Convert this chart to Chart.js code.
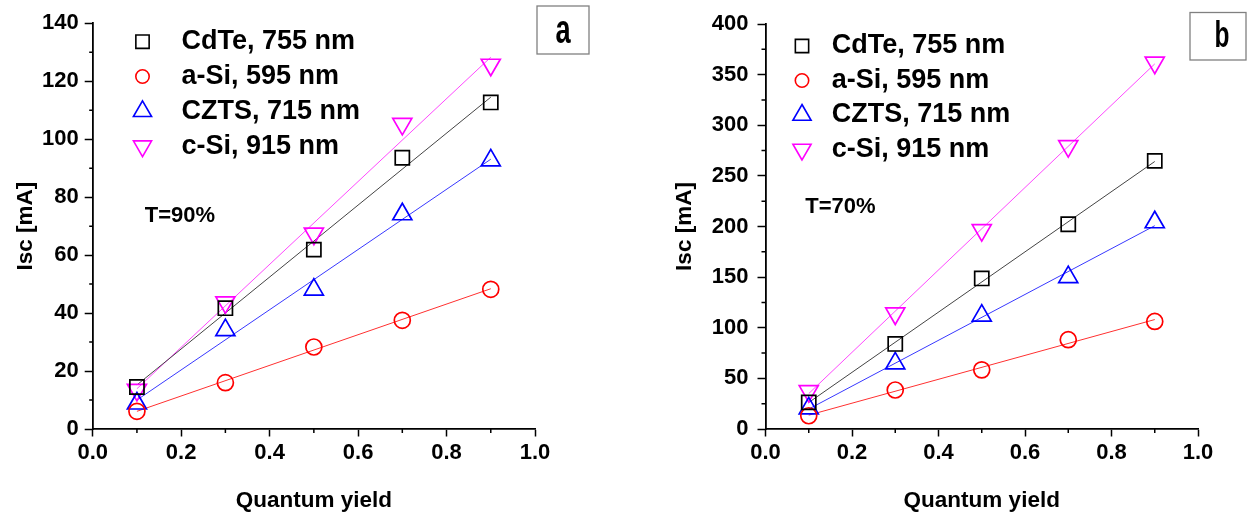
<!DOCTYPE html>
<html>
<head>
<meta charset="utf-8">
<script src="https://cdn.jsdelivr.net/npm/chart.js@4.4.1/dist/chart.umd.min.js"></script>
<style>
  html, body { margin: 0; padding: 0; background: #fff; }
  #wrap { position: relative; width: 1257px; height: 521px; }
  canvas { position: absolute; top: 0; }
  #chartA { left: 0; }
  #chartB { left: 628px; }
</style>
</head>
<body>
<div id="wrap">
  <canvas id="chartA" width="628" height="521"></canvas>
  <canvas id="chartB" width="629" height="521"></canvas>
</div>
<script>
// values
const quantumYield = [0.1, 0.3, 0.5, 0.7, 0.9];
const fitRange = [0.1, 0.9];
const seriesNames = ["CdTe, 755 nm", "a-Si, 595 nm", "CZTS, 715 nm", "c-Si, 915 nm"];
const xTickLabels = ["0.0", "0.2", "0.4", "0.6", "0.8", "1.0"];
const yTickLabelsA = ["0", "20", "40", "60", "80", "100", "120", "140"];
const yTickLabelsB = ["0", "50", "100", "150", "200", "250", "300", "350", "400"];

// panel a, T=90%
const cdteA = [14.5, 41.7, 61.9, 93.6, 112.7];
const asiA = [6.1, 16.0, 28.3, 37.5, 48.2];
const cztsA = [8.8, 34.1, 48.1, 74.1, 92.7];
const csiA = [13.5, 43.7, 67.4, 105.3, 125.7];
const cdteFitA = [15.2, 114.5];
const asiFitA = [6.1, 48.4];
const cztsFitA = [10.0, 93.1];
const csiFitA = [13.9, 128.3];

// panel b, T=70%
const cdteB = [26.3, 84.0, 148.7, 202.2, 264.8];
const asiB = [13.1, 38.5, 58.4, 88.2, 106.2];
const cztsB = [20.4, 64.8, 112.0, 150.0, 204.2];
const csiB = [37.4, 114.1, 196.4, 279.4, 361.8];
const cdteFitB = [26.2, 264.2];
const asiFitB = [13.7, 108.1];
const cztsFitB = [19.7, 200.8];
const csiFitB = [35.0, 360.6];

// look of each series
const markerColors = ["#000000", "#ff0000", "#0000ff", "#ff00ff"];
const lineColors = ["#444444", "#ff3030", "#3838ff", "#ff48ff"];
const markerStyles = ["rect", "circle", "triangle", "triangle"];
const markerRotation = [0, 0, 0, 180];
const markerRadius = [10, 8, 11, 11];
const legendRadius = [9.4, 6.7, 10.5, 10.5];

const FONT = '"Liberation Sans", Arial, sans-serif';
Chart.defaults.font.family = FONT;
Chart.defaults.color = "#000";

const tickFont = { size: 22, weight: "bold", family: FONT };
const titleFont = { size: 22.5, weight: "bold", family: FONT };

function drawMarker(ctx, style, x, y, r, rot) {
  ctx.beginPath();
  if (style === "rect") {
    const s = r * Math.SQRT1_2;
    ctx.rect(x - s, y - s, 2 * s, 2 * s);
  } else if (style === "circle") {
    ctx.arc(x, y, r, 0, Math.PI * 2);
  } else {
    let a = rot * Math.PI / 180;
    ctx.moveTo(x + Math.sin(a) * r, y - Math.cos(a) * r);
    a += 2 * Math.PI / 3;
    ctx.lineTo(x + Math.sin(a) * r, y - Math.cos(a) * r);
    a += 2 * Math.PI / 3;
    ctx.lineTo(x + Math.sin(a) * r, y - Math.cos(a) * r);
    ctx.closePath();
  }
  ctx.stroke();
}

const decorPlugin = {
  id: "decor",
  afterDraw(chart, args, o) {
    const ctx = chart.ctx;
    const xs = chart.scales.x, ys = chart.scales.y;
    ctx.save();
    // minor ticks
    ctx.strokeStyle = "#000";
    ctx.lineWidth = 1.5;
    ctx.beginPath();
    for (let i = 0; i < xs.ticks.length - 1; i++) {
      const px = xs.getPixelForValue((xs.ticks[i].value + xs.ticks[i + 1].value) / 2);
      ctx.moveTo(px, xs.top);
      ctx.lineTo(px, xs.top + o.minorX);
    }
    for (let i = 0; i < ys.ticks.length - 1; i++) {
      const py = ys.getPixelForValue((ys.ticks[i].value + ys.ticks[i + 1].value) / 2);
      ctx.moveTo(ys.right, py);
      ctx.lineTo(ys.right - o.minorY, py);
    }
    ctx.stroke();

    // legend
    ctx.font = "bold 27px " + FONT;
    ctx.textBaseline = "middle";
    ctx.fillStyle = "#000";
    seriesNames.forEach((name, i) => {
      const y = o.legendY + i * o.legendGap;
      ctx.strokeStyle = markerColors[i];
      ctx.lineWidth = 1.6;
      drawMarker(ctx, markerStyles[i], o.legendMarkerX, y, legendRadius[i], markerRotation[i]);
      ctx.fillText(name, o.legendTextX, y);
    });

    // transmission note
    ctx.font = "bold 22px " + FONT;
    ctx.fillText(o.note, o.noteX, o.noteY);

    // panel letter box
    ctx.strokeStyle = "#808080";
    ctx.lineWidth = 1.3;
    ctx.strokeRect(o.box[0], o.box[1], o.box[2], o.box[3]);
    ctx.translate(o.letterX, o.letterY);
    ctx.scale(0.68, 1);
    ctx.font = "bold " + o.letterSize + "px " + FONT;
    ctx.textAlign = "center";
    ctx.textBaseline = "alphabetic";
    ctx.fillText(o.letter, 0, 0);
    ctx.restore();
  }
};

function makeChart(id, series, fits, yMax, yStep, yLabels, p) {
  const datasets = [];
  series.forEach((vals, i) => {
    datasets.push({
      type: "line",
      data: fitRange.map((x, j) => ({ x: x, y: fits[i][j] })),
      borderColor: lineColors[i],
      borderWidth: 1,
      pointRadius: 0,
      fill: false,
      order: 2
    });
    datasets.push({
      type: "scatter",
      data: quantumYield.map((x, j) => ({ x: x, y: vals[j] })),
      pointStyle: markerStyles[i],
      pointRotation: markerRotation[i],
      pointRadius: markerRadius[i],
      pointBorderWidth: 1.7,
      borderColor: markerColors[i],
      backgroundColor: "rgba(0,0,0,0)",
      order: 1
    });
  });

  return new Chart(document.getElementById(id), {
    data: { datasets: datasets },
    plugins: [decorPlugin],
    options: {
      responsive: false,
      animation: false,
      events: [],
      layout: { padding: { left: 0, right: p.padRight, top: p.padTop, bottom: 0 } },
      scales: {
        x: {
          type: "linear",
          min: 0,
          max: 1,
          ticks: { stepSize: 0.2, callback: (v, i) => xTickLabels[i], font: tickFont, color: "#000", padding: 3, maxRotation: 0, autoSkip: false },
          grid: { drawOnChartArea: false, drawTicks: true, tickLength: 7.5, tickWidth: 1.5, tickColor: "#000" },
          border: { color: "#000", width: 1.8 },
          title: { display: true, text: "Quantum yield", font: titleFont, color: "#000", padding: { top: 0, bottom: 7 } },
          afterFit(s) { s.height = 92; }
        },
        y: {
          type: "linear",
          min: 0,
          max: yMax,
          ticks: { stepSize: yStep, callback: (v, i) => yLabels[i], font: tickFont, color: "#000", padding: p.yTickPad, autoSkip: false },
          grid: { drawOnChartArea: false, drawTicks: true, tickLength: 8, tickWidth: 1.5, tickColor: "#000" },
          border: { color: "#000", width: 1.8 },
          title: { display: true, text: "Isc [mA]", font: titleFont, color: "#000", padding: { top: p.yTitlePad, bottom: 0 } },
          afterFit(s) { s.width = p.yWidth; }
        }
      },
      plugins: {
        legend: { display: false },
        tooltip: { enabled: false },
        decor: p.decor
      }
    }
  });
}

makeChart("chartA",
  [cdteA, asiA, cztsA, csiA],
  [cdteFitA, asiFitA, cztsFitA, csiFitA],
  140, 20, yTickLabelsA,
  {
    yWidth: 92.7, padRight: 93, padTop: 23.3, yTickPad: 6, yTitlePad: 12,
    decor: {
      minorX: 4, minorY: 3.5,
      legendMarkerX: 142.5, legendTextX: 181.5, legendY: 41.7, legendGap: 34.8,
      note: "T=90%", noteX: 144.7, noteY: 216,
      box: [537, 6, 52, 48], letter: "a", letterX: 563, letterY: 43, letterSize: 40
    }
  });

makeChart("chartB",
  [cdteB, asiB, cztsB, csiB],
  [cdteFitB, asiFitB, cztsFitB, csiFitB],
  400, 50, yTickLabelsB,
  {
    yWidth: 137.5, padRight: 59, padTop: 24, yTickPad: 9, yTitlePad: 43,
    decor: {
      minorX: 4, minorY: 4,
      legendMarkerX: 174, legendTextX: 203.7, legendY: 46, legendGap: 34.5,
      note: "T=70%", noteX: 177.3, noteY: 207,
      box: [562, 12.5, 56, 47.5], letter: "b", letterX: 594, letterY: 46.5, letterSize: 36
    }
  });
</script>
</body>
</html>
